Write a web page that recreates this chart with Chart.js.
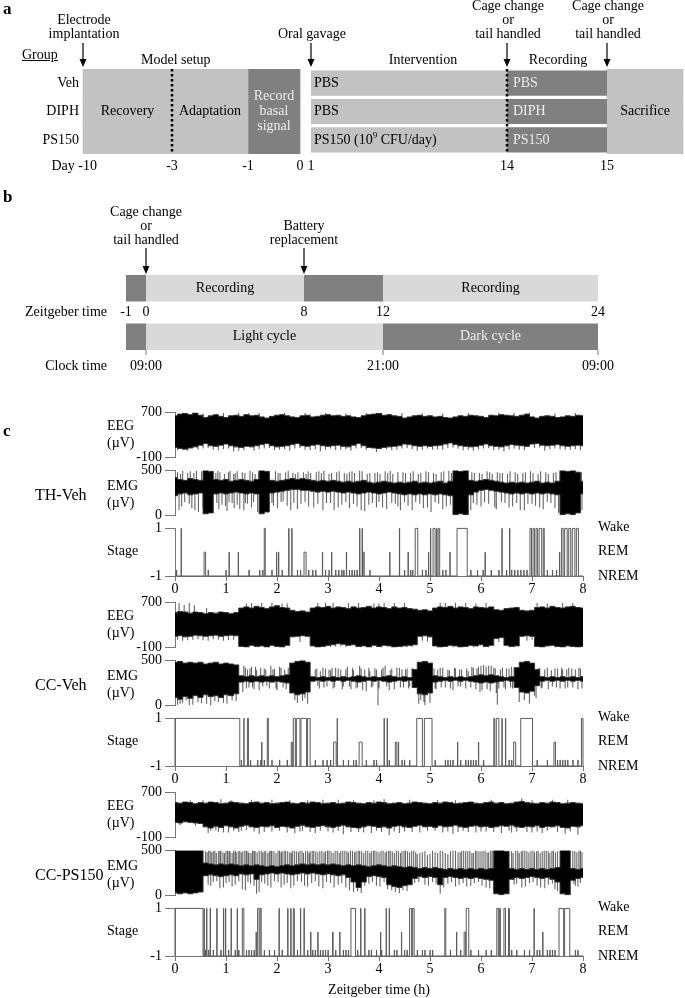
<!DOCTYPE html>
<html>
<head>
<meta charset="utf-8">
<script src="https://cdn.jsdelivr.net/npm/chart.js@4.4.0/dist/chart.umd.min.js"></script>
<style>
body { margin: 0; background: #fff; }
#fig { position: relative; width: 685px; height: 998px; overflow: hidden; font-family: "Liberation Serif", "Times New Roman", serif; color: #000; }
#fig canvas { position: absolute; }
.t { position: absolute; white-space: nowrap; line-height: 1; }
</style>
</head>
<body>
<div id="fig">
  <canvas id="pa" width="685" height="180" style="left:0;top:0;width:685px;height:180px"></canvas>
  <canvas id="pb" width="685" height="200" style="left:0;top:180px;width:685px;height:200px"></canvas>
</div>
<script>
// ---------- panel a : protocol ----------
const aGroups = ['Veh', 'DIPH', 'PS150'];
const aDayTicks = [-10, -3, -1, 0, 1, 14, 15];
const aRecovery = [-10, -3];
const aAdaptation = [-3, -1];
const aBasal = [-1, 0];
const aIntervention = [1, 14];
const aRecording = [14, 15];
const aSacrifice = [15, 16];
const aDotted = [-3, 14];
const aGavage = ['PBS', 'PBS', 'PS150 (10^9 CFU/day)'];
const aTreatment = ['PBS', 'DIPH', 'PS150'];
const aEvents = [
  [-10, ['Electrode', 'implantation']],
  [1, ['Oral gavage']],
  [14, ['Cage change', 'or', 'tail handled']],
  [15, ['Cage change', 'or', 'tail handled']]
];
const aTitles = [['Model setup', -2.9], ['Intervention', 8.43], ['Recording', 14.51]];

// ---------- panel b : recording day ----------
const ztSegments = [[-1, 0], [0, 8], [8, 12], [12, 24]];
const ztShades = ['dark', 'light', 'dark', 'light'];
const ztLabels = ['', 'Recording', '', 'Recording'];
const cycleSegments = [[-1, 0], [0, 12], [12, 24]];
const cycleShades = ['dark', 'light', 'dark'];
const cycleLabels = ['', 'Light cycle', 'Dark cycle'];
const ztTicks = [-1, 0, 8, 12, 24];
const clockTicks = [0, 12, 24];
const clockLabels = ['09:00', '21:00', '09:00'];
const bEvents = [[0, ['Cage change', 'or', 'tail handled']], [8, ['Battery', 'replacement']]];

// ---------- panel c : traces (µV) on a 0.1 h grid ----------
const hours = [0,0.1,0.2,0.3,0.4,0.5,0.6,0.7,0.8,0.9,1,1.1,1.2,1.3,1.4,1.5,1.6,1.7,1.8,1.9,2,2.1,2.2,2.3,2.4,2.5,2.6,2.7,2.8,2.9,
  3,3.1,3.2,3.3,3.4,3.5,3.6,3.7,3.8,3.9,4,4.1,4.2,4.3,4.4,4.5,4.6,4.7,4.8,4.9,5,5.1,5.2,5.3,5.4,5.5,5.6,5.7,5.8,5.9,
  6,6.1,6.2,6.3,6.4,6.5,6.6,6.7,6.8,6.9,7,7.1,7.2,7.3,7.4,7.5,7.6,7.7,7.8,7.9,8];
const stageHours = [0, 1, 2, 3, 4, 5, 6, 7, 8];

const thEegHi = [640,670,680,660,690,650,610,640,660,630, 610,640,650,630,660,640,650,620,600,630,
  650,660,640,620,610,640,650,620,630,650, 660,640,650,630,640,620,610,640,660,670,
  680,650,660,640,630,600,620,640,650,630, 640,620,630,610,600,620,640,630,650,640,
  630,610,650,640,660,650,640,630,650,670, 620,600,630,640,630,610,620,640,630,650, 640];
const thEegLo = [80,60,50,70,90,120,150,110,100,120, 140,110,90,80,100,90,110,130,150,110,
  90,100,110,130,150,110,100,120,130,110, 100,110,120,100,90,120,150,110,80,70,
  60,80,90,100,110,140,130,110,100,110, 100,110,120,140,160,130,110,100,90,100,
  120,140,110,100,90,110,130,120,110,100, 140,150,120,110,120,130,110,100,110,120, 110];
const thEegSpikes = [[0.25,20],[0.35,700],[0.45,40],[0.85,30],[1.15,10],[1.35,30],[1.45,690],[1.55,20],[2.05,40],[2.25,20],
  [2.65,30],[2.85,10],[3.25,40],[3.45,20],[3.95,0],[3.95,700],[4.05,700],[4.25,30],[4.75,20],[5.05,40],[5.65,30],[5.85,20],
  [6.25,30],[6.45,10],[6.85,30],[6.95,700],[7.25,20],[7.65,40],[7.95,30],
  [0.05,30],[0.15,40],[0.55,60],[0.65,70],[0.75,40],[0.95,50],[1.05,60],[1.25,20],[1.65,50],[1.75,60],[1.85,70],[1.95,30],
  [2.15,50],[2.35,60],[2.45,70],[2.55,40],[2.75,50],[2.95,40],[3.05,60],[3.15,30],[3.35,50],[3.55,60],[3.65,70],[3.75,40],
  [4.15,50],[4.35,40],[4.45,60],[4.55,70],[4.65,50],[4.85,40],[4.95,60],[5.15,50],[5.25,40],[5.35,70],[5.45,80],[5.55,60],
  [5.75,40],[5.95,50],[6.05,60],[6.15,70],[6.35,40],[6.55,50],[6.65,60],[6.75,40],[7.05,70],[7.15,80],[7.35,50],[7.45,60],
  [7.55,50],[7.75,40],[7.85,50],[0.15,700],[0.55,680],[0.95,690],[1.25,700],[1.65,690],[2.15,700],[2.55,690],[2.95,690],
  [3.35,680],[3.75,690],[4.45,690],[4.85,680],[5.25,680],[5.75,690],[6.35,700],[6.65,690],[7.45,680],[7.85,690]];
const thEmgHi = [420,400,390,410,400,390,500,490,400,390, 400,380,390,400,390,380,400,500,490,390,
  380,390,400,410,400,410,400,390,380,390, 380,390,380,370,380,370,380,390,370,360,
  370,380,370,360,370,360,370,380,360,370, 360,370,380,360,380,500,490,500,390,380,
  390,400,390,380,370,360,370,360,370,360, 370,380,360,370,360,380,500,490,500,480, 380];
const thEmgLo = [220,240,250,230,240,250,20,30,240,250, 240,250,260,250,240,250,240,20,40,250,
  260,270,280,290,290,280,280,270,260,270, 260,270,260,250,260,250,240,250,260,250,
  240,250,260,250,240,230,240,230,240,230, 240,230,240,230,220,10,20,10,230,260,
  280,290,280,270,260,250,240,250,240,250, 240,250,240,250,240,230,10,20,10,30, 240];
const thEmgSpikes = [[0.05,480],[0.08,60],[0.15,500],[0.19,150],[0.25,470],[0.33,80],[0.42,500],[0.46,40],[0.52,490],
  [0.88,480],[0.92,120],[0.97,460],[1.02,50],[1.08,500],[1.12,140],[1.18,470],[1.27,70],[1.32,480],[1.42,130],[1.47,500],
  [1.57,460],[1.62,40],[1.64,490],[1.93,110],[2.06,470],[2.12,160],[2.17,480],[2.27,60],[2.36,460],[2.47,130],[2.52,480],
  [2.66,470],[2.72,90],[2.82,490],[2.97,140],[3.02,460],[3.12,60],[3.17,480],[3.27,120],[3.32,470],[3.47,490],[3.57,100],
  [3.62,500],[3.72,50],[3.77,460],[3.87,140],[3.92,470],[4.07,90],[4.12,490],[4.27,460],[4.32,130],[4.42,60],[4.47,480],
  [4.57,110],[4.62,470],[4.72,150],[4.77,460],[4.87,80],[4.92,490],[5.02,40],[5.07,470],[5.17,130],[5.22,480],[5.32,100],
  [5.37,500],[5.47,20],[5.87,470],[5.92,120],[6.02,460],[6.07,150],[6.17,480],[6.27,90],[6.37,470],[6.47,140],[6.52,460],
  [6.62,100],[6.67,480],[6.77,60],[6.82,470],[6.92,130],[6.97,490],[7.07,110],[7.12,460],[7.22,70],[7.27,480],[7.37,140],
  [7.42,470],[7.52,30],[7.97,480],[7.98,60],
  [0.11,460],[0.3,490],[0.37,470],[0.56,480],[0.8,470],[0.84,500],[1.05,480],[1.15,460],[1.22,490],[1.37,470],[1.52,480],
  [1.85,460],[1.97,490],[2.02,470],[2.22,500],[2.31,470],[2.41,480],[2.57,460],[2.61,490],[2.77,480],[2.87,470],[2.92,500],
  [3.07,470],[3.22,490],[3.37,460],[3.42,480],[3.52,470],[3.67,490],[3.82,470],[3.97,480],[4.02,460],[4.17,470],[4.22,500],
  [4.37,480],[4.52,470],[4.67,490],[4.82,470],[4.97,480],[5.12,460],[5.27,490],[5.42,470],[5.82,480],[5.97,470],[6.12,490],
  [6.22,460],[6.32,480],[6.42,470],[6.57,490],[6.72,460],[6.87,480],[7.02,470],[7.17,490],[7.32,460],[7.47,480],[7.55,500],
  [0.13,100],[0.28,130],[0.39,60],[0.55,90],[0.82,140],[0.86,70],[0.99,110],[1.06,150],[1.16,80],[1.22,120],[1.35,60],
  [1.38,140],[1.5,90],[1.54,150],[1.67,70],[1.9,140],[2.01,80],[2.08,150],[2.2,110],[2.33,140],[2.4,70],[2.55,150],
  [2.62,100],[2.8,130],[2.9,60],[3.05,140],[3.2,90],[3.35,150],[3.42,80],[3.5,130],[3.65,60],[3.8,120],[3.95,90],[4.0,150],
  [4.15,70],[4.25,140],[4.37,100],[4.5,150],[4.65,60],[4.8,130],[4.95,90],[5.1,150],[5.25,70],[5.4,120],[5.8,60],[5.85,140],
  [6.0,100],[6.15,130],[6.3,70],[6.4,150],[6.55,90],[6.7,140],[6.85,60],[7.0,130],[7.15,90],[7.3,150],[7.45,80],[7.55,40]];

const ccVehEegHi = [520,540,530,510,530,520,500,520,510,530, 520,500,520,600,620,600,630,610,590,620,
  640,610,600,560,540,550,530,600,620,610, 630,600,620,610,590,620,600,610,630,600,
  620,610,590,620,600,610,590,580,560,570, 550,600,620,610,630,600,620,610,590,620,
  610,600,620,570,560,590,600,610,560,550, 560,610,620,600,630,610,600,620,630,610, 600];
const ccVehEegLo = [100,110,90,100,120,110,100,110,120,100, 110,120,110,-80,-90,-60,-80,-70,-90,-60,
  -80,-90,-60,90,100,110,100,-70,-90,-80, -60,-50,-30,-40,-60,-50,-80,-70,-90,-60,
  -80,-60,-70,-90,-80,-70,-60,-50,100,110, 90,-70,-90,-80,-60,-70,-90,-80,-60,-70,
  -50,-80,-60,60,80,-60,-80,-70,100,110, 100,-80,-90,-70,-60,-80,-90,-70,-80,-90, -80];
const ccVehEegSpikes = [[0.08,690],[0.15,20],[0.18,660],[0.28,700],[0.35,40],[0.38,650],[0.55,30],[0.62,600],[0.75,50],
  [0.95,20],[1.15,40],[1.5,690],[1.9,700],[2.1,680],[2.45,0],[2.95,700],[3.4,690],[3.9,680],[4.1,690],[4.3,690],[4.85,20],
  [4.95,10],[5.3,690],[5.7,700],[6.35,0],[6.9,20],[7.0,40],[7.3,680],[7.8,690],
  [0.05,40],[0.25,30],[0.45,50],[0.65,20],[0.85,40],[1.05,30],[1.25,50],[1.35,-100],[1.45,-100],[1.65,-100],[1.75,-100],
  [1.85,-100],[2.05,-100],[2.15,-100],[2.75,-100],[2.85,-100],[3.05,-90],[3.15,-80],[3.25,-70],[3.35,-100],[3.55,-100],
  [3.65,-100],[3.85,-100],[4.05,-100],[4.25,-100],[4.45,-100],[4.55,-100],[4.65,-90],[5.15,-100],[5.25,-100],[5.45,-100],
  [5.55,-100],[5.85,-100],[6.05,-100],[6.15,-100],[6.55,-100],[6.65,-100],[7.15,-100],[7.25,-100],[7.45,-100],[7.55,-100],
  [7.65,-100],[7.85,-100],[7.95,-100],[1.4,680],[1.7,690],[2.2,680],[2.8,690],[3.1,700],[3.6,690],[4.0,680],[4.5,690],
  [5.2,690],[5.5,700],[5.9,680],[6.1,690],[7.1,690],[7.6,690]];
const ccVehEmgHi = [480,490,470,480,470,480,460,470,480,460, 470,460,450,330,320,330,320,330,320,330,
  320,330,340,470,490,500,480,320,310,320, 310,320,310,320,310,320,330,320,310,320,
  310,320,330,320,310,320,310,400,480,490, 470,330,320,310,320,310,320,310,320,330,
  340,330,340,330,320,310,320,420,480,490, 470,400,320,310,320,310,320,310,320,310, 320];
const ccVehEmgLo = [90,70,100,80,110,90,120,100,110,90, 120,110,130,260,270,260,270,260,270,260,
  270,260,250,140,120,130,150,270,280,270, 280,270,280,270,280,270,260,270,280,270,
  280,270,260,270,280,270,280,200,130,120, 140,260,270,280,270,280,270,280,270,260,
  250,260,250,260,270,280,270,200,150,140, 160,220,270,280,270,280,270,280,270,280, 270];
const ccVehEmgSpikes = [[0.05,10],[0.15,30],[0.28,0],[0.45,40],[0.62,20],[0.78,50],[0.95,30],[1.12,60],[1.33,150],[1.35,440],
  [1.42,400],[1.45,200],[1.5,430],[1.55,180],[1.6,390],[1.68,420],[1.72,210],[1.78,400],[1.85,190],[1.88,440],[1.95,410],
  [2.0,170],[2.05,430],[2.12,200],[2.15,400],[2.22,420],[2.35,60],[2.55,80],[2.75,400],[2.8,220],[2.85,380],[2.92,200],
  [2.95,410],[3.05,390],[3.1,190],[3.15,420],[3.25,400],[3.3,210],[3.38,430],[3.45,180],[3.5,390],[3.58,200],[3.62,440],
  [3.72,400],[3.75,160],[3.82,380],[3.88,210],[3.92,410],[3.98,0],[4.05,400],[4.12,440],[4.2,170],[4.22,390],[4.35,420],
  [4.42,200],[4.45,400],[4.55,410],[4.6,210],[4.82,60],[4.9,0],[5.1,190],[5.15,400],[5.25,420],[5.3,200],[5.38,390],
  [5.45,170],[5.5,410],[5.6,210],[5.62,400],[5.75,380],[5.8,200],[5.85,420],[5.95,430],[5.98,150],[6.05,450],[6.12,180],
  [6.15,440],[6.25,420],[6.3,140],[6.32,10],[6.38,400],[6.45,200],[6.5,410],[6.6,430],[6.62,190],[6.85,60],[7.05,110],
  [7.15,420],[7.2,200],[7.25,400],[7.38,390],[7.4,210],[7.5,410],[7.55,190],[7.6,400],[7.7,200],[7.72,420],[7.85,400],
  [7.9,180],[7.95,410],
  [0.1,20],[0.22,60],[0.35,10],[0.52,30],[0.7,0],[0.85,40],[1.02,20],[1.2,50],[1.38,420],[1.4,190],[1.47,410],[1.52,200],
  [1.58,430],[1.65,170],[1.75,410],[1.8,220],[1.92,400],[1.98,190],[2.08,420],[2.18,180],[2.4,30],[2.5,50],[2.6,20],
  [2.78,410],[2.83,190],[2.9,420],[2.98,210],[3.02,400],[3.08,420],[3.13,200],[3.2,410],[3.28,180],[3.35,400],[3.42,210],
  [3.48,420],[3.55,190],[3.65,410],[3.68,170],[3.8,420],[3.85,200],[3.95,400],[4.0,190],[4.08,420],[4.15,210],[4.25,410],
  [4.3,180],[4.4,420],[4.48,200],[4.52,400],[4.58,190],[4.65,420],[4.78,20],[4.88,40],[5.0,30],[5.08,410],[5.12,180],
  [5.2,420],[5.22,200],[5.35,400],[5.4,190],[5.48,420],[5.55,210],[5.58,400],[5.7,190],[5.72,410],[5.82,430],[5.9,180],
  [5.92,410],[6.0,440],[6.02,170],[6.1,430],[6.18,160],[6.2,440],[6.28,410],[6.35,190],[6.42,420],[6.48,180],[6.55,410],
  [6.58,200],[6.75,40],[6.95,20],[7.08,80],[7.12,410],[7.18,190],[7.3,420],[7.32,180],[7.45,410],[7.48,200],[7.58,420],
  [7.65,190],[7.68,400],[7.78,410],[7.8,200],[7.92,420],[7.98,190]];

const ccPsEegHi = [520,510,530,520,500,520,510,530,520,500, 510,530,520,510,500,520,530,510,520,500,
  510,520,530,510,500,520,510,530,520,500, 510,520,500,510,530,520,510,500,520,510,
  530,520,500,510,520,500,510,530,520,510, 500,520,510,530,520,500,510,520,530,510,
  500,520,530,510,520,500,510,530,540,520, 510,500,520,510,530,520,500,510,520,510, 500];
const ccPsEegLo = [170,160,180,170,160,150,90,70,100,80, 110,90,70,100,120,90,80,100,90,110,
  80,100,90,70,100,120,90,80,100,110, 90,80,100,120,90,80,70,90,110,100,
  80,90,70,100,110,90,80,100,120,90, 100,80,110,90,100,120,90,80,100,110,
  90,100,80,90,110,100,120,90,80,100, 90,110,80,100,90,110,80,70,100,90, 110];
const ccPsEegSpikes = [[0.3,560],[0.65,-20],[0.85,0],[0.9,580],[1.05,-10],[1.3,20],[1.5,570],[1.65,-30],[1.9,10],[2.2,-10],
  [2.25,560],[2.5,20],[2.75,-20],[2.9,570],[3.0,10],[3.3,-40],[3.5,560],[3.6,0],[3.85,-20],[4.1,580],[4.2,-60],[4.5,10],
  [4.8,-10],[5.1,20],[5.15,560],[5.45,-30],[5.75,0],[6.1,10],[6.4,-20],[6.7,10],[6.8,590],[7.0,-10],[7.3,20],[7.4,570],
  [7.65,-30],[7.9,-50],
  [0.1,120],[0.4,110],[0.7,20],[0.8,30],[0.95,-10],[1.15,20],[1.25,0],[1.4,30],[1.55,10],[1.75,0],[2.05,20],[2.35,-20],
  [2.45,10],[2.65,0],[2.85,20],[3.1,-10],[3.2,20],[3.45,0],[3.7,-10],[3.95,20],[4.05,0],[4.3,10],[4.4,-20],[4.65,0],
  [4.95,20],[5.25,-10],[5.35,10],[5.55,0],[5.65,20],[5.9,-10],[6.0,10],[6.25,0],[6.55,20],[6.6,-10],[6.9,0],[7.1,10],
  [7.2,-20],[7.5,0],[7.75,10],[0.55,560],[1.1,560],[1.9,570],[2.6,560],[3.2,570],[3.9,560],[4.6,570],[5.5,560],[6.2,570],
  [7.0,560],[7.7,570]];
const ccPsEmgHi = [500,500,500,500,500,500,360,350,340,350, 340,350,340,330,340,330,340,330,320,330,
  320,330,340,330,340,350,340,350,340,350, 340,350,340,330,340,330,340,330,320,330,
  340,330,320,330,320,310,320,310,300,310, 300,310,300,290,300,290,300,290,300,290,
  300,290,300,500,500,490,300,290,300,290, 300,290,300,290,300,310,500,500,300,290, 300];
const ccPsEmgLo = [30,20,30,20,30,40,220,230,220,210, 220,230,220,240,230,240,180,230,240,250,
  240,250,240,230,240,250,240,250,240,230, 240,230,220,230,200,150,90,150,210,220,
  210,200,120,100,90,110,120,190,210,200, 210,200,120,200,210,200,190,200,190,200,
  190,180,170,20,10,20,180,200,190,200, 210,200,190,200,180,150,20,10,170,190, 200];
const ccPsEmgUp = [[0.6,490],[0.66,500],[0.72,480],[0.78,500],[0.85,490],[0.9,500],[0.97,470],[1.03,500],[1.08,490],[1.15,500],
  [1.2,480],[1.27,500],[1.33,490],[1.4,500],[1.45,470],[1.52,500],[1.57,490],[1.65,500],[1.72,480],[1.78,500],[1.85,490],
  [1.9,500],[1.98,470],[2.05,500],[2.1,490],[2.17,500],[2.25,480],[2.3,500],[2.38,490],[2.45,500],[2.52,470],[2.6,500],
  [2.65,490],[2.72,500],[2.8,480],[2.88,500],[2.95,490],[3.02,500],[3.1,470],[3.18,500],[3.25,490],[3.33,500],[3.4,480],
  [3.48,500],[3.55,490],[3.62,500],[3.7,470],[3.78,500],[3.85,490],[3.92,500],[4.0,480],[4.08,500],[4.15,490],[4.22,500],
  [4.3,470],[4.38,500],[4.45,490],[4.52,500],[4.6,480],[4.68,500],[4.75,460],[4.85,480],[4.95,450],[5.05,500],[5.15,470],
  [5.25,490],[5.35,460],[5.45,500],[5.55,480],[5.62,500],[5.7,490],[5.78,500],[5.85,470],[5.92,500],[6.0,490],[6.08,500],
  [6.15,480],[6.22,500],[6.6,490],[6.68,500],[6.75,470],[6.82,500],[6.9,490],[6.98,500],[7.05,480],[7.12,500],[7.2,490],
  [7.28,500],[7.35,470],[7.42,500],[7.5,490],[7.8,500],[7.88,480],[7.95,500],
  [0.63,480],[0.69,500],[0.75,490],[0.81,470],[0.88,500],[0.94,480],[1.0,500],[1.06,490],[1.12,470],[1.18,500],[1.24,490],
  [1.3,480],[1.37,500],[1.43,490],[1.49,470],[1.55,500],[1.61,480],[1.69,500],[1.75,490],[1.82,470],[1.88,500],[1.94,490],
  [2.02,500],[2.08,480],[2.14,500],[2.21,490],[2.28,470],[2.34,500],[2.42,480],[2.49,500],[2.56,490],[2.63,470],[2.69,500],
  [2.76,490],[2.84,500],[2.92,480],[2.99,500],[3.06,490],[3.14,500],[3.22,470],[3.29,500],[3.37,490],[3.44,500],[3.52,480],
  [3.59,500],[3.66,490],[3.74,500],[3.82,470],[3.89,500],[3.96,490],[4.04,500],[4.12,480],[4.19,500],[4.26,490],[4.34,500],
  [4.42,470],[4.49,500],[4.56,490],[4.64,500],[4.72,480],[4.8,470],[4.9,490],[5.0,460],[5.1,480],[5.2,500],[5.3,470],
  [5.4,490],[5.5,500],[5.59,480],[5.66,500],[5.74,490],[5.82,470],[5.89,500],[5.96,490],[6.04,500],[6.12,480],[6.19,500],
  [6.26,490],[6.63,470],[6.72,500],[6.79,490],[6.86,500],[6.94,480],[7.02,500],[7.09,490],[7.16,470],[7.24,500],[7.32,490],
  [7.39,500],[7.46,480],[7.84,490],[7.92,500],[7.98,480]];
const ccPsEmgDown = [[0.65,120],[0.75,150],[0.88,80],[1.0,140],[1.12,100],[1.25,160],[1.38,60],[1.48,130],[1.6,20],[1.7,150],
  [1.82,110],[1.95,160],[2.08,90],[2.2,140],[2.33,110],[2.48,150],[2.6,100],[2.75,160],[2.9,80],[3.05,140],[3.2,120],
  [3.35,90],[3.5,40],[3.65,30],[3.8,130],[3.95,110],[4.1,150],[4.25,60],[4.4,30],[4.55,50],[4.7,140],[4.9,120],[5.05,150],
  [5.2,20],[5.35,130],[5.5,100],[5.65,140],[5.8,110],[5.95,150],[6.1,90],[6.25,70],[6.65,120],[6.8,90],[6.95,140],
  [7.1,110],[7.25,80],[7.4,130],[7.5,50],[7.85,110],[7.95,140],
  [0.7,110],[0.82,160],[0.95,90],[1.06,150],[1.18,120],[1.32,70],[1.43,150],[1.55,110],[1.65,40],[1.76,130],[1.88,90],
  [2.02,150],[2.14,120],[2.27,80],[2.4,160],[2.54,110],[2.68,140],[2.82,100],[2.97,150],[3.12,90],[3.27,140],[3.42,60],
  [3.58,50],[3.72,110],[3.87,150],[4.02,100],[4.17,70],[4.32,40],[4.47,60],[4.62,130],[4.78,150],[4.97,110],[5.12,130],
  [5.27,90],[5.42,150],[5.57,120],[5.72,100],[5.87,140],[6.02,110],[6.17,80],[6.7,130],[6.87,100],[7.02,150],[7.17,90],
  [7.32,120],[7.45,70],[7.82,130],[7.9,100]];

// ---------- panel c : sleep stages (bouts in h) ----------
const thWake = [[0.12,0.125],[1.75,1.77],[2.23,2.235],[2.29,2.295],[3.62,3.625],[3.67,3.675],[4.40,4.405],[4.71,4.76],
  [5.01,5.015],[5.06,5.10],[5.13,5.135],[5.16,5.19],[5.53,5.73],[6.41,6.415],[6.56,6.565],[6.96,6.99],[7.02,7.05],
  [7.08,7.11],[7.14,7.19],[7.22,7.24],[7.58,7.61],[7.64,7.69],[7.72,7.76],[7.79,7.84],[7.87,7.91]];
const thRem = [[0.57,0.60],[1.06,1.065],[1.24,1.245],[1.99,1.995],[2.03,2.035],[2.53,2.57],[2.89,2.895],[3.07,3.075],
  [3.36,3.365],[3.69,3.71],[4.21,4.215],[4.57,4.575],[4.97,4.975],[5.39,5.395],[6.08,6.085],[7.54,7.545]];
const thBlips = [0.03,0.65,1.0,1.45,1.66,1.72,1.9,2.1,2.4,2.46,2.62,2.7,2.76,2.95,3.02,3.15,3.21,3.27,3.31,3.42,3.47,3.52,
  3.57,3.82,4.5,4.62,4.66,4.85,4.92,5.25,5.31,5.8,5.93,6.04,6.2,6.35,6.5,6.6,6.66,6.72,6.78,6.84,6.9,7.3,7.4,7.48];

const ccVehWake = [[0,1.27],[1.35,1.355],[1.42,1.44],[1.81,1.83],[2.32,2.36],[2.38,2.45],[2.47,2.58],[2.60,2.65],
  [3.18,3.185],[4.10,4.105],[4.16,4.165],[4.74,4.85],[4.89,5.04],[6.25,6.27],[6.30,6.35],[6.41,6.415],[6.48,6.485],
  [6.78,7.01],[7.97,8.0]];
const ccVehRem = [[1.70,1.705],[2.28,2.30],[3.11,3.16],[3.61,3.67],[4.32,4.35],[4.38,4.385],[5.54,5.545],[5.95,5.955],
  [6.64,6.68],[7.43,7.46]];
const ccVehBlips = [1.3,1.48,1.62,1.68,1.75,1.9,2.05,2.2,2.75,2.9,2.98,3.05,3.3,3.4,3.5,3.55,3.75,3.9,3.95,4.2,4.45,4.5,
  4.6,5.1,5.3,5.35,5.4,5.45,5.6,5.7,5.75,5.8,5.85,5.9,6.05,6.55,6.6,7.1,7.3,7.5,7.55,7.6,7.65,7.7,7.8,7.9];

const ccPsWake = [[0,0.55],[0.57,0.575],[0.62,0.625],[0.69,0.695],[0.82,0.825],[0.95,0.955],[0.99,0.995],[1.10,1.105],
  [1.22,1.225],[1.32,1.35],[1.62,1.65],[1.67,1.69],[2.04,2.045],[2.21,2.215],[2.27,2.275],[2.32,2.34],[2.46,2.465],
  [2.53,2.535],[3.45,3.54],[3.64,3.645],[3.72,3.725],[4.14,4.145],[4.20,4.205],[4.60,4.64],[4.66,4.69],[5.29,5.31],
  [5.71,5.76],[6.31,6.34],[6.36,6.38],[6.45,6.48],[6.54,6.56],[7.04,7.045],[7.53,7.62],[7.64,7.74]];
const ccPsRem = [[1.59,1.595],[2.66,2.665],[2.80,2.805],[3.09,3.10],[3.23,3.235],[4.03,4.035],[4.44,4.445],[5.52,5.525],
  [5.67,5.70],[7.21,7.215]];
const ccPsBlips = [0.6,0.66,0.75,0.9,1.05,1.18,1.25,1.4,1.45,1.5,1.55,1.75,1.85,1.95,2.1,2.4,2.6,2.7,2.75,2.85,2.9,2.95,3.0,
  3.15,3.3,3.35,3.4,3.58,3.8,3.85,3.95,4.05,4.3,4.35,4.5,4.55,4.75,4.85,4.9,5.0,5.05,5.4,5.6,5.8,5.95,6.1,6.2,6.6,6.7,
  6.85,6.95,7.1,7.15,7.3,7.35,7.4,7.45,7.85,7.9];

// ---------- layout / style ----------
const FONT = '14px "Liberation Serif", "Times New Roman", serif';
const LIGHT_A = '#c2c2c2', LIGHT_B = '#d9d9d9', DARK = '#808080';
const AXIS = '#777', EDGE = '#333', SPIKE = '#666', STAGE = '#5a5a5a';
// schematic (non-proportional) day / hour axes: value -> canvas px
const A_DAYS = [-10, -3, -1, 0, 1, 14, 15, 16], A_PX = [83, 172, 248, 300, 311, 507, 607, 683];
const B_HOURS = [-1, 0, 8, 12, 24], B_PX = [126, 146, 304, 383, 598];

function interp(v, xs, ys) {
  for (let i = 0; i < xs.length - 1; i++) {
    if (v <= xs[i + 1]) return ys[i] + (v - xs[i]) / (xs[i + 1] - xs[i]) * (ys[i + 1] - ys[i]);
  }
  return ys[ys.length - 1];
}
const warpA = d => interp(d, A_DAYS, A_PX);
const warpB = h => interp(h, B_HOURS, B_PX);

Chart.defaults.font.family = '"Liberation Serif", "Times New Roman", serif';
Chart.defaults.font.size = 14;
Chart.defaults.color = '#000';
Chart.defaults.animation = false;
Chart.defaults.responsive = false;
Chart.defaults.plugins.legend.display = false;
Chart.defaults.plugins.tooltip.enabled = false;

const fig = document.getElementById('fig');
function addText(str, x, y, o = {}) {
  const d = document.createElement('div');
  d.className = 't';
  d.textContent = str;
  d.style.left = x + 'px';
  d.style.top = y + 'px';
  d.style.fontSize = (o.size || 14) + 'px';
  if (o.bold) d.style.fontWeight = 'bold';
  if (o.underline) d.style.textDecoration = 'underline';
  let tx = '0';
  if (o.align == 'center') tx = '-50%';
  if (o.align == 'right') tx = '-100%';
  d.style.transform = 'translate(' + tx + ', -50%)';
  fig.appendChild(d);
}

function arrow(ctx, x, y0, y1) {
  ctx.beginPath();
  ctx.moveTo(x, y0);
  ctx.lineTo(x, y1 - 6);
  ctx.stroke();
  ctx.beginPath();
  ctx.moveTo(x - 3.5, y1 - 8);
  ctx.lineTo(x + 3.5, y1 - 8);
  ctx.lineTo(x, y1);
  ctx.closePath();
  ctx.fill();
}

function drawSup(ctx, str, x, y) {
  const parts = str.split('^');
  ctx.textAlign = 'left';
  ctx.fillText(parts[0], x, y);
  if (parts.length < 2) return;
  let w = ctx.measureText(parts[0]).width;
  ctx.font = '9px "Liberation Serif", serif';
  ctx.fillText(parts[1][0], x + w, y - 4);
  w += ctx.measureText(parts[1][0]).width;
  ctx.font = FONT;
  ctx.fillText(parts[1].slice(1), x + w, y);
}

// ---------- panel a ----------
const panelA = {
  id: 'panelA',
  afterDraw(chart) {
    const ctx = chart.ctx, xs = chart.scales.x, ys = chart.scales.y;
    const px = d => xs.getPixelForValue(warpA(d));
    const top = chart.chartArea.top, bot = chart.chartArea.bottom;
    const mid = ys.getPixelForValue(1);
    ctx.save();
    ctx.font = FONT;
    ctx.fillStyle = '#000';
    ctx.strokeStyle = '#000';
    ctx.textBaseline = 'middle';

    ctx.lineWidth = 2.5;
    ctx.setLineDash([2.5, 2.5]);
    aDotted.forEach(d => { ctx.beginPath(); ctx.moveTo(px(d), top); ctx.lineTo(px(d), bot); ctx.stroke(); });
    ctx.setLineDash([]);

    ctx.textAlign = 'right';
    aGroups.forEach((g, i) => ctx.fillText(g, px(-10) - 4, ys.getPixelForValue(i)));

    ctx.textAlign = 'center';
    ctx.fillText('Recovery', (px(aRecovery[0]) + px(aRecovery[1])) / 2, mid);
    ctx.fillText('Adaptation', (px(aAdaptation[0]) + px(aAdaptation[1])) / 2, mid);
    ctx.fillText('Sacrifice', (px(aSacrifice[0]) + px(aSacrifice[1])) / 2, mid);
    ctx.fillStyle = '#ececec';
    ['Record', 'basal', 'signal'].forEach((s, k) => ctx.fillText(s, (px(aBasal[0]) + px(aBasal[1])) / 2, mid + (k - 1) * 15));
    aTreatment.forEach((s, i) => { ctx.textAlign = 'left'; ctx.fillText(s, px(aRecording[0]) + 6, ys.getPixelForValue(i)); });
    ctx.fillStyle = '#000';
    aGavage.forEach((s, i) => drawSup(ctx, s, px(aIntervention[0]) + 3, ys.getPixelForValue(i)));

    ctx.textAlign = 'center';
    aTitles.forEach(t => ctx.fillText(t[0], px(t[1]), 60));
    ctx.lineWidth = 1.2;
    aEvents.forEach(ev => {
      const lines = ev[1];
      lines.forEach((s, k) => ctx.fillText(s, px(ev[0]) + 1, 34 - (lines.length - 1 - k) * 14));
      arrow(ctx, px(ev[0]), 43, top - 2);
    });

    aDayTicks.forEach((d, i) => {
      if (i == 0) { ctx.textAlign = 'right'; ctx.fillText('Day ' + d, px(d) + 14, 166); }
      else { ctx.textAlign = 'center'; ctx.fillText(String(d), px(d), 166); }
    });
    ctx.restore();
  }
};

const allRows = r => aGroups.map(() => [warpA(r[0]), warpA(r[1])]);
new Chart(document.getElementById('pa'), {
  type: 'bar',
  data: {
    labels: aGroups,
    datasets: [
      { data: allRows(aRecovery), backgroundColor: LIGHT_A, barPercentage: 1, categoryPercentage: 1 },
      { data: allRows(aAdaptation), backgroundColor: LIGHT_A, barPercentage: 1, categoryPercentage: 1 },
      { data: allRows(aBasal), backgroundColor: DARK, barPercentage: 1, categoryPercentage: 1 },
      { data: allRows(aIntervention), backgroundColor: LIGHT_A, barPercentage: 0.89, categoryPercentage: 1 },
      { data: allRows(aRecording), backgroundColor: DARK, barPercentage: 0.89, categoryPercentage: 1 },
      { data: allRows(aSacrifice), backgroundColor: LIGHT_A, barPercentage: 1, categoryPercentage: 1 }
    ]
  },
  options: {
    indexAxis: 'y',
    datasets: { bar: { grouped: false, borderWidth: 0 } },
    layout: { padding: { top: 69, bottom: 26, left: 0, right: 0 } },
    scales: {
      x: { type: 'linear', min: 0, max: 685, display: false },
      y: { type: 'category', display: false }
    }
  },
  plugins: [panelA]
});

// ---------- panel b ----------
const shade = s => s == 'dark' ? DARK : LIGHT_B;
const panelB = {
  id: 'panelB',
  afterDraw(chart) {
    const ctx = chart.ctx, xs = chart.scales.x, ys = chart.scales.y;
    const px = h => xs.getPixelForValue(warpB(h));
    const r0 = ys.getPixelForValue(0), r1 = ys.getPixelForValue(1);
    const half = (r1 - r0) * 0.546 / 2;
    ctx.save();
    ctx.font = FONT;
    ctx.textBaseline = 'middle';
    ctx.textAlign = 'center';
    ztSegments.forEach((s, i) => {
      if (!ztLabels[i]) return;
      ctx.fillStyle = ztShades[i] == 'dark' ? '#eee' : '#000';
      ctx.fillText(ztLabels[i], (px(s[0]) + px(s[1])) / 2, r0);
    });
    cycleSegments.forEach((s, i) => {
      if (!cycleLabels[i]) return;
      ctx.fillStyle = cycleShades[i] == 'dark' ? '#eee' : '#000';
      ctx.fillText(cycleLabels[i], (px(s[0]) + px(s[1])) / 2, r1);
    });
    ctx.fillStyle = '#000';
    const yz = (r0 + r1) / 2, yc = r1 + half + 16;
    ztTicks.forEach(h => ctx.fillText(String(h), px(h), yz));
    clockTicks.forEach((h, i) => ctx.fillText(clockLabels[i], px(h), yc));
    ctx.textAlign = 'right';
    ctx.fillText('Zeitgeber time', 107, yz);
    ctx.fillText('Clock time', 107, yc);

    ctx.strokeStyle = AXIS;
    ctx.lineWidth = 1;
    clockTicks.forEach(h => { ctx.beginPath(); ctx.moveTo(px(h), r1 + half); ctx.lineTo(px(h), r1 + half + 5); ctx.stroke(); });

    ctx.strokeStyle = '#000';
    ctx.lineWidth = 1.2;
    ctx.textAlign = 'center';
    bEvents.forEach(ev => {
      const lines = ev[1];
      lines.forEach((s, k) => ctx.fillText(s, px(ev[0]), 60 - (lines.length - 1 - k) * 14));
      arrow(ctx, px(ev[0]), 68, r0 - half - 1);
    });
    ctx.restore();
  }
};

const bDatasets = [];
ztSegments.forEach((s, i) => bDatasets.push({ data: [[warpB(s[0]), warpB(s[1])], null], backgroundColor: shade(ztShades[i]) }));
cycleSegments.forEach((s, i) => bDatasets.push({ data: [null, [warpB(s[0]), warpB(s[1])]], backgroundColor: shade(cycleShades[i]) }));
new Chart(document.getElementById('pb'), {
  type: 'bar',
  data: { labels: ['Zeitgeber time', 'Clock time'], datasets: bDatasets },
  options: {
    indexAxis: 'y',
    datasets: { bar: { grouped: false, borderWidth: 0, barPercentage: 0.546, categoryPercentage: 1 } },
    layout: { padding: { top: 84, bottom: 19, left: 0, right: 0 } },
    scales: {
      x: { type: 'linear', min: 0, max: 685, display: false },
      y: { type: 'category', display: false }
    }
  },
  plugins: [panelB]
});

// ---------- panel c ----------
function makeCanvas(left, top, w, h) {
  const c = document.createElement('canvas');
  c.width = w; c.height = h;
  c.style.left = left + 'px'; c.style.top = top + 'px';
  c.style.width = w + 'px'; c.style.height = h + 'px';
  fig.appendChild(c);
  return c;
}

function yAxis(min, max) {
  return {
    type: 'linear', min: min, max: max,
    afterBuildTicks: s => { s.ticks = [{ value: min }, { value: max }]; },
    afterFit: s => { s.width = 55; },
    grid: { drawOnChartArea: false, tickLength: 10, color: AXIS },
    border: { color: AXIS },
    ticks: { padding: 3, autoSkip: false }
  };
}

function spikeLine(spikes, hi, lo) {
  const pts = [];
  spikes.forEach(s => {
    const i = Math.round(s[0] * 10);
    const mid = (hi[i] + lo[i]) / 2;
    pts.push({ x: s[0], y: mid }, { x: s[0], y: s[1] }, { x: s[0], y: null });
  });
  return pts;
}

function hypnogram(wake, rem, blips) {
  const ev = [];
  wake.forEach(b => ev.push([b[0], b[1], 1]));
  rem.forEach(b => ev.push([b[0], b[1], 0]));
  const bouts = ev.slice();
  blips.forEach(t => {
    if (!bouts.some(b => t >= b[0] - 0.005 && t <= b[1] + 0.005)) ev.push([t, t + 0.004, -0.75]);
  });
  ev.sort((p, q) => p[0] - q[0]);
  const pts = [{ x: 0, y: -1 }];
  ev.forEach(e => { pts.push({ x: e[0], y: e[2] }); pts.push({ x: e[1], y: -1 }); });
  pts.push({ x: 8, y: -1 });
  return pts;
}

function traceChart(top, hi, lo, spikes, yMin, yMax) {
  const c = makeCanvas(110, top - 10, 490, 68);
  const line = arr => hours.map((t, i) => ({ x: t, y: arr[i] }));
  new Chart(c, {
    type: 'line',
    data: {
      datasets: [
        { data: line(hi), borderColor: EDGE, borderWidth: 1, backgroundColor: '#000', fill: '+1', pointRadius: 0, stepped: 'middle', order: 2 },
        { data: line(lo), borderColor: EDGE, borderWidth: 1, fill: false, pointRadius: 0, stepped: 'middle', order: 1 },
        { data: spikeLine(spikes, hi, lo), borderColor: SPIKE, borderWidth: 1.1, fill: false, pointRadius: 0, spanGaps: false, order: 3 }
      ]
    },
    options: {
      layout: { padding: { top: 10, bottom: 10, left: 10, right: 17 } },
      scales: { x: { type: 'linear', min: 0, max: 8, display: false }, y: yAxis(yMin, yMax) }
    }
  });
}

function stageChart(top, wake, rem, blips) {
  const c = makeCanvas(110, top - 10, 490, 83);
  new Chart(c, {
    type: 'line',
    data: {
      datasets: [{ data: hypnogram(wake, rem, blips), stepped: true, borderColor: STAGE, borderWidth: 1, pointRadius: 0, fill: false, clip: 4 }]
    },
    options: {
      layout: { padding: { top: 10, bottom: 0, left: 10, right: 17 } },
      scales: {
        x: {
          type: 'linear', min: 0, max: 8,
          afterBuildTicks: s => { s.ticks = stageHours.map(v => ({ value: v })); },
          afterFit: s => { s.height = 24; },
          grid: { drawOnChartArea: false, tickLength: 5, color: AXIS },
          border: { color: AXIS },
          ticks: { padding: 0, autoSkip: false, maxRotation: 0 }
        },
        y: yAxis(-1, 1)
      }
    }
  });
}

const groups = [
  { name: 'TH-Veh', top: 411, eeg: [thEegHi, thEegLo, thEegSpikes], emg: [thEmgHi, thEmgLo, thEmgSpikes], stage: [thWake, thRem, thBlips] },
  { name: 'CC-Veh', top: 601, eeg: [ccVehEegHi, ccVehEegLo, ccVehEegSpikes], emg: [ccVehEmgHi, ccVehEmgLo, ccVehEmgSpikes], stage: [ccVehWake, ccVehRem, ccVehBlips] },
  { name: 'CC-PS150', top: 791, eeg: [ccPsEegHi, ccPsEegLo, ccPsEegSpikes], emg: [ccPsEmgHi, ccPsEmgLo, ccPsEmgUp.concat(ccPsEmgDown)], stage: [ccPsWake, ccPsRem, ccPsBlips] }
];

groups.forEach(g => {
  const b = g.top;
  traceChart(b, g.eeg[0], g.eeg[1], g.eeg[2], -100, 700);
  traceChart(b + 58, g.emg[0], g.emg[1], g.emg[2], 0, 500);
  stageChart(b + 116, g.stage[0], g.stage[1], g.stage[2]);
  addText('EEG', 107, b + 15);
  addText('(µV)', 107, b + 32);
  addText('EMG', 107, b + 75);
  addText('(µV)', 107, b + 92);
  addText('Stage', 107, b + 140);
  addText(g.name, 35, b + 84, { size: 16 });
  addText('Wake', 598, b + 116);
  addText('REM', 598, b + 140);
  addText('NREM', 598, b + 165);
});

addText('a', 3, 8, { size: 17, bold: true });
addText('b', 3, 196, { size: 17, bold: true });
addText('c', 3, 430, { size: 17, bold: true });
addText('Group', 22, 55, { underline: true });
addText('Zeitgeber time (h)', 379, 990, { align: 'center' });
</script>
</body>
</html>
